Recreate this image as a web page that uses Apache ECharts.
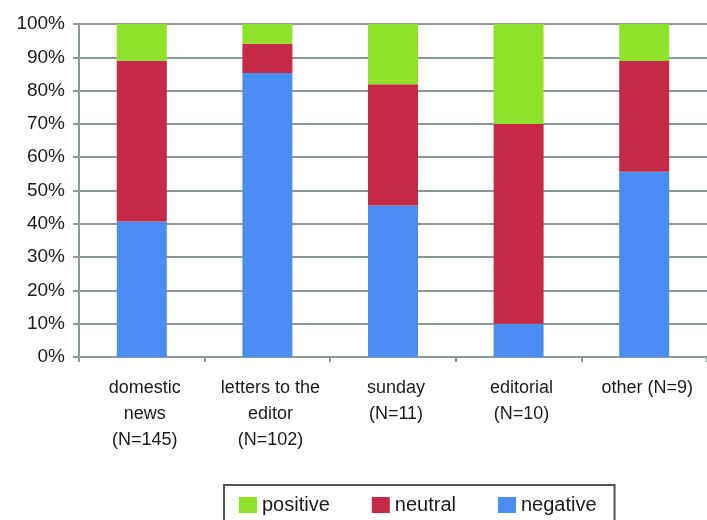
<!DOCTYPE html>
<html>
<head>
<meta charset="utf-8">
<script src="https://cdn.jsdelivr.net/npm/echarts@6/dist/echarts.min.js"></script>
<style>
  html, body { margin: 0; padding: 0; background: #fff; }
  #chart { width: 707px; height: 520px; }
</style>
</head>
<body>
<div id="chart"></div>
<script>
// Article categories and the share of positive / neutral / negative coverage (%)
const categories = [
  'domestic\nnews\n(N=145)',
  'letters to the\neditor\n(N=102)',
  'sunday\n(N=11)',
  'editorial\n(N=10)',
  'other (N=9)'
];
const negative = [40.7, 85.3, 45.5, 10, 55.6];
const neutral  = [48.3, 8.8, 36.4, 60, 33.3];
const positive = [11.0, 5.9, 18.1, 30, 11.1];

const colors = { positive: '#8ee22a', neutral: '#c42a45', negative: '#4a8cf2' };
const font = 'Liberation Sans, Arial, sans-serif';
const axisGrey = '#8a9898';

const chart = echarts.init(document.getElementById('chart'));
chart.setOption({
  animation: false,
  grid: { left: 79, right: 0, top: 24, bottom: 163, containLabel: false },
  legend: {
    data: ['positive', 'neutral', 'negative'],
    left: 224,
    top: 485,
    itemWidth: 18,
    itemHeight: 16,
    itemGap: 42,
    padding: [10, 18, 12, 15],
    borderColor: '#555',
    borderWidth: 2,
    icon: 'rect',
    textStyle: { fontFamily: font, fontSize: 20, color: '#1a1a1a' }
  },
  xAxis: {
    type: 'category',
    data: categories,
    axisLine: { lineStyle: { color: axisGrey, width: 2 } },
    axisTick: { show: true, length: 5, lineStyle: { color: axisGrey, width: 2 } },
    axisLabel: {
      fontFamily: font, fontSize: 18, color: '#1a1a1a',
      lineHeight: 26, margin: 18, interval: 0, padding: [0, 0, 0, 6]
    }
  },
  yAxis: {
    type: 'value',
    min: 0, max: 100, interval: 10,
    axisLine: { show: true, lineStyle: { color: axisGrey, width: 2 } },
    axisTick: { show: true, length: 6, lineStyle: { color: axisGrey, width: 2 } },
    splitLine: { lineStyle: { color: axisGrey, width: 2 } },
    axisLabel: {
      formatter: '{value}%', fontFamily: font, fontSize: 19, color: '#1a1a1a', margin: 14
    }
  },
  series: [
    { name: 'negative', type: 'bar', stack: 'all', barWidth: 50, data: negative,
      itemStyle: { color: colors.negative } },
    { name: 'neutral', type: 'bar', stack: 'all', barWidth: 50, data: neutral,
      itemStyle: { color: colors.neutral } },
    { name: 'positive', type: 'bar', stack: 'all', barWidth: 50, data: positive,
      itemStyle: { color: colors.positive } }
  ]
});
</script>
</body>
</html>
